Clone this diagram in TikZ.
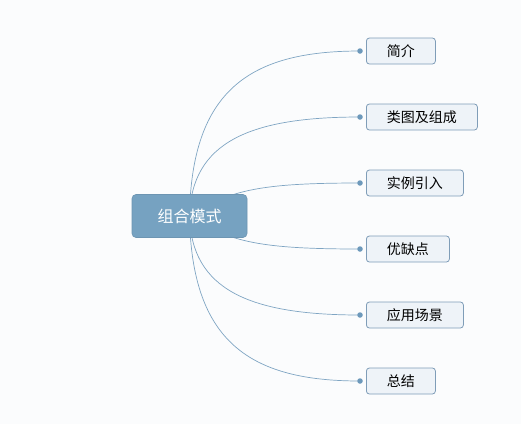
\documentclass[tikz,border=0pt]{standalone}
\usepackage{fontspec}
\setmainfont{Noto Sans CJK SC}
\usetikzlibrary{backgrounds}
\definecolor{bg}{HTML}{FBFCFD}
\definecolor{mainfill}{HTML}{76A2C1}
\definecolor{linec}{HTML}{7FA5C3}
\definecolor{dotc}{HTML}{6D99BB}
\definecolor{boxfill}{HTML}{EEF3F8}
\definecolor{boxdraw}{HTML}{7F9DB8}
\begin{document}
\begin{tikzpicture}[x=1pt,y=-1pt,
 root/.style={fill=mainfill, draw=mainfill!92!black, line width=0.6pt, rounded corners=4pt, text=white, font=\fontsize{16}{16}\selectfont, minimum height=43pt, inner xsep=25.5pt, inner ysep=0pt},
 topic/.style={fill=boxfill, draw=boxdraw, line width=0.8pt, rounded corners=3pt, font=\fontsize{14}{14}\selectfont, minimum height=26pt, inner xsep=20.5pt, inner ysep=0pt, anchor=west},
 link/.style={draw=linec, line width=0.7pt},
 tipdot/.style={circle, fill=dotc, inner sep=0pt, minimum size=5.5pt}]
\useasboundingbox (0,0) rectangle (521,424);
\node[root] (c) at (189.5,216) {组合模式};
\node[topic] (t1) at (366,51) {简介};
\node[topic] (t2) at (366,117) {类图及组成};
\node[topic] (t3) at (366,183) {实例引入};
\node[topic] (t4) at (366,249) {优缺点};
\node[topic] (t5) at (366,315) {应用场景};
\node[topic] (t6) at (366,381) {总结};
\node[tipdot] (d1) at ([xshift=-6pt]t1.west) {};
\node[tipdot] (d2) at ([xshift=-6pt]t2.west) {};
\node[tipdot] (d3) at ([xshift=-6pt]t3.west) {};
\node[tipdot] (d4) at ([xshift=-6pt]t4.west) {};
\node[tipdot] (d5) at ([xshift=-6pt]t5.west) {};
\node[tipdot] (d6) at ([xshift=-6pt]t6.west) {};
\begin{scope}[on background layer]
\fill[bg] (0,0) rectangle (521,424);
\draw[link] (c.center) .. controls +(2,-126) and +(-110,0) .. (d1.center);
\draw[link] (c.center) .. controls +(2,-74) and +(-110,0) .. (d2.center);
\draw[link] (c.center) .. controls +(40,-26) and +(-100,0) .. (d3.center);
\draw[link] (c.center) .. controls +(40,26) and +(-100,0) .. (d4.center);
\draw[link] (c.center) .. controls +(2,74) and +(-110,0) .. (d5.center);
\draw[link] (c.center) .. controls +(2,126) and +(-110,0) .. (d6.center);
\end{scope}
\end{tikzpicture}
\end{document}
